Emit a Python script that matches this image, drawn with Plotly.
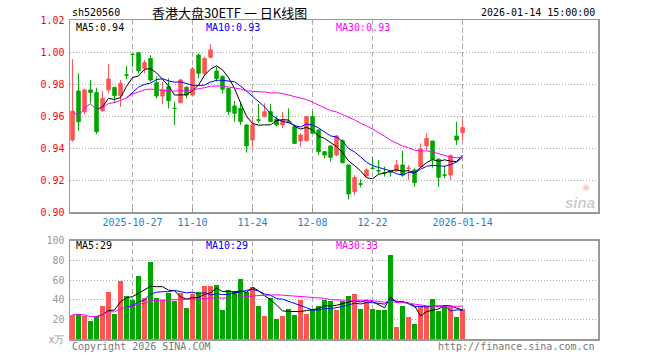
import plotly.graph_objects as go
import pandas as pd

dates = [
    "2025-10-13", "2025-10-14", "2025-10-15", "2025-10-16", "2025-10-17",
    "2025-10-20", "2025-10-21", "2025-10-22", "2025-10-23", "2025-10-24",
    "2025-10-27", "2025-10-28", "2025-10-29", "2025-10-30", "2025-10-31",
    "2025-11-03", "2025-11-04", "2025-11-05", "2025-11-06", "2025-11-07",
    "2025-11-10", "2025-11-11", "2025-11-12", "2025-11-13", "2025-11-14",
    "2025-11-17", "2025-11-18", "2025-11-19", "2025-11-20", "2025-11-21",
    "2025-11-24", "2025-11-25", "2025-11-26", "2025-11-27", "2025-11-28",
    "2025-12-01", "2025-12-02", "2025-12-03", "2025-12-04", "2025-12-05",
    "2025-12-08", "2025-12-09", "2025-12-10", "2025-12-11", "2025-12-12",
    "2025-12-15", "2025-12-16", "2025-12-17", "2025-12-18", "2025-12-19",
    "2025-12-22", "2025-12-23", "2025-12-24", "2025-12-25", "2025-12-26",
    "2025-12-29", "2025-12-30", "2025-12-31",
    "2026-01-05", "2026-01-06", "2026-01-07", "2026-01-08", "2026-01-09",
    "2026-01-12", "2026-01-13", "2026-01-14",
]

opens = [
    0.9450, 0.9756, 0.9627, 0.9763, 0.9746, 0.9633, 0.9763, 0.9779, 0.9727, 0.9857,
    0.9986, 0.9995, 0.9898, 0.9960, 0.9808, 0.9725, 0.9783, 0.9649, 0.9683, 0.9780,
    0.9731, 0.9981, 0.9867, 0.9967, 0.9881, 0.9846, 0.9773, 0.9663, 0.9648, 0.9544,
    0.9450, 0.9576, 0.9596, 0.9627, 0.9581, 0.9544, 0.9566, 0.9533, 0.9444, 0.9446,
    0.9596, 0.9513, 0.9377, 0.9413, 0.9356, 0.9446, 0.9294, 0.9127, 0.9176, 0.9225,
    0.9274, 0.9259, 0.9247, 0.9252, 0.9258, 0.9294, 0.9272, 0.9263, 0.9283, 0.9413,
    0.9444, 0.9331, 0.9232, 0.9231, 0.9475, 0.9496,
]
highs = [
    0.9956, 0.9867, 0.9770, 0.9825, 0.9777, 0.9756, 0.9925, 0.9780, 0.9825, 0.9913,
    0.9988, 0.9998, 0.9950, 0.9980, 0.9846, 0.9814, 0.9835, 0.9690, 0.9831, 0.9785,
    0.9908, 0.9992, 0.9970, 1.0050, 0.9908, 0.9856, 0.9775, 0.9694, 0.9690, 0.9546,
    0.9592, 0.9675, 0.9680, 0.9675, 0.9600, 0.9627, 0.9648, 0.9548, 0.9492, 0.9600,
    0.9633, 0.9513, 0.9377, 0.9413, 0.9481, 0.9454, 0.9294, 0.9231, 0.9204, 0.9273,
    0.9342, 0.9325, 0.9283, 0.9252, 0.9325, 0.9383, 0.9294, 0.9273, 0.9429, 0.9492,
    0.9444, 0.9331, 0.9290, 0.9360, 0.9565, 0.9575,
]
lows = [
    0.9440, 0.9508, 0.9610, 0.9680, 0.9488, 0.9627, 0.9742, 0.9680, 0.9658, 0.9830,
    0.9908, 0.9867, 0.9867, 0.9814, 0.9710, 0.9675, 0.9648, 0.9544, 0.9680, 0.9710,
    0.9730, 0.9835, 0.9850, 0.9960, 0.9815, 0.9742, 0.9606, 0.9565, 0.9544, 0.9371,
    0.9404, 0.9558, 0.9592, 0.9565, 0.9535, 0.9523, 0.9554, 0.9425, 0.9408, 0.9440,
    0.9490, 0.9356, 0.9335, 0.9315, 0.9350, 0.9304, 0.9079, 0.9106, 0.9154, 0.9220,
    0.9263, 0.9238, 0.9221, 0.9221, 0.9250, 0.9220, 0.9200, 0.9158, 0.9280, 0.9388,
    0.9277, 0.9158, 0.9210, 0.9200, 0.9419, 0.9446,
]
closes = [
    0.9630, 0.9564, 0.9763, 0.9746, 0.9502, 0.9710, 0.9831, 0.9727, 0.9804, 0.9855,
    0.9984, 0.9883, 0.9933, 0.9825, 0.9725, 0.9763, 0.9696, 0.9647, 0.9825, 0.9731,
    0.9894, 0.9867, 0.9960, 1.0013, 0.9835, 0.9767, 0.9627, 0.9617, 0.9565, 0.9413,
    0.9544, 0.9574, 0.9627, 0.9565, 0.9544, 0.9575, 0.9564, 0.9429, 0.9481, 0.9596,
    0.9492, 0.9377, 0.9356, 0.9342, 0.9475, 0.9308, 0.9113, 0.9215, 0.9174, 0.9263,
    0.9272, 0.9257, 0.9245, 0.9248, 0.9294, 0.9231, 0.9274, 0.9183, 0.9394, 0.9460,
    0.9329, 0.9217, 0.9230, 0.9352, 0.9450, 0.9527,
]
volumes = [
    24.6, 25.7, 22.9, 17.9, 22.9, 33.8, 47.3, 25.7, 59.4, 43.9,
    39.2, 64.5, 41.6, 78.7, 42.2, 39.2, 46.6, 38.9, 46.6, 32.0,
    45.6, 48.3, 54.4, 54.4, 55.4, 29.0, 50.0, 49.0, 61.2, 48.3,
    53.4, 33.8, 23.6, 41.6, 20.6, 23.6, 30.7, 24.6, 40.0, 25.7,
    30.4, 33.8, 39.5, 39.0, 29.0, 38.5, 44.0, 45.5, 30.7, 39.0,
    30.7, 29.0, 29.7, 85.5, 11.8, 33.8, 22.3, 15.5, 33.8, 33.8,
    40.9, 28.7, 33.1, 32.4, 22.3, 30.4,
]

tick_dates = ["2025-10-27", "2025-11-10", "2025-11-24", "2025-12-08", "2025-12-22", "2026-01-14"]
tick_texts = ["2025-10-27", "11-10", "11-24", "12-08", "12-22", "2026-01-14"]
price_ticks = [0.90, 0.92, 0.94, 0.96, 0.98, 1.00, 1.02]
vol_ticks = [0, 20, 40, 60, 80, 100]
vol_tick_texts = ["x万", "20", "40", "60", "80", "100"]

RED = "#FF5555"
GREEN = "#00A600"
MONO = "DejaVu Sans Mono"

c = pd.Series(closes)
v = pd.Series(volumes)
ma5 = c.rolling(5).mean()
ma10 = c.rolling(10).mean()
ma30 = c.rolling(30, min_periods=1).mean()
vma5 = v.rolling(5).mean()
vma10 = v.rolling(10).mean()
vma30 = v.rolling(30, min_periods=1).mean()

W, H = 660, 360
ML, MR, MT, MB = 70, 62, 20, 21
PW, PH = W - ML - MR, H - MT - MB


def px(x):
    return (x - ML) / PW


def py(y):
    return (H - MB - y) / PH


price_dom = [py(212), 1.0]
vol_dom = [0.0, py(240.7)]

bar_colors = [RED if cl > op else GREEN for op, cl in zip(opens, closes)]

fig = go.Figure()
fig.add_trace(go.Candlestick(
    x=dates, open=opens, high=highs, low=lows, close=closes,
    increasing=dict(line=dict(color=RED, width=1), fillcolor=RED),
    decreasing=dict(line=dict(color=GREEN, width=1), fillcolor=GREEN),
    whiskerwidth=0, xaxis="x", yaxis="y", showlegend=False, hoverinfo="skip",
))
for s, col in [(ma5, "black"), (ma10, "#0000FF"), (ma30, "#FF00FF")]:
    fig.add_trace(go.Scatter(x=dates, y=s, mode="lines", line=dict(color=col, width=1),
                             xaxis="x", yaxis="y", showlegend=False, hoverinfo="skip"))

fig.add_trace(go.Bar(x=dates, y=volumes, marker=dict(color=bar_colors, line=dict(width=0)),
                     width=0.83, xaxis="x2", yaxis="y2", showlegend=False, hoverinfo="skip"))
for s, col in [(vma5, "black"), (vma10, "#0000FF"), (vma30, "#FF00FF")]:
    fig.add_trace(go.Scatter(x=dates, y=s, mode="lines", line=dict(color=col, width=1),
                             xaxis="x2", yaxis="y2", showlegend=False, hoverinfo="skip"))

xrange = [-0.42, 87.57]
axis_common = dict(showline=True, mirror=True, linecolor="#999999", linewidth=1.5)

fig.update_layout(
    width=W, height=H, margin=dict(l=ML, r=MR, t=MT, b=MB),
    paper_bgcolor="white", plot_bgcolor="white",
    boxgap=0.18, bargap=0, hovermode=False,
    font=dict(family=MONO, size=10, color="black"),
    xaxis=dict(domain=[0, 1], anchor="y", type="category", categoryorder="array",
               categoryarray=dates, range=xrange, tickvals=tick_dates, ticktext=tick_texts,
               tickfont=dict(family=MONO, size=10, color="#1E7FCF"), ticks="inside", ticklen=3,
               tickcolor="#999999", showgrid=True, gridcolor="#AAAAAA", griddash="5px,3px",
               gridwidth=1, rangeslider=dict(visible=False), **axis_common),
    xaxis2=dict(domain=[0, 1], anchor="y2", matches="x", type="category", tickvals=tick_dates,
                showticklabels=False, ticks="", showgrid=True, gridcolor="#AAAAAA",
                griddash="5px,3px", gridwidth=1, **axis_common),
    yaxis=dict(domain=price_dom, anchor="x", range=[0.90, 1.02], tickvals=price_ticks,
               ticktext=[f"{t:.2f}" for t in price_ticks],
               tickfont=dict(family=MONO, size=10, color="#FF0000"), ticks="",
               showgrid=True, gridcolor="#AAAAAA", griddash="1px,2px", zeroline=False,
               ticklabelstandoff=2, **axis_common),
    yaxis2=dict(domain=vol_dom, anchor="x2", range=[0, 100], tickvals=vol_ticks,
                ticktext=vol_tick_texts, tickfont=dict(family=MONO, size=10, color="#999999"),
                ticks="", showgrid=True, gridcolor="#AAAAAA", griddash="1px,2px",
                zeroline=False, ticklabelstandoff=2, **axis_common),
)

ann = []


def add_text(text, x, y, color="black", xanchor="left", size=10, family=MONO, **kw):
    ann.append(dict(text=text, x=px(x), y=py(y), xref="paper", yref="paper",
                    xanchor=xanchor, yanchor="middle", showarrow=False,
                    font=dict(family=family, size=size, color=color), **kw))


add_text("sh520560", 70, 12)
add_text("香港大盘30ETF 一 日K线图", 229, 12, xanchor="center", size=13,
         family="Noto Sans CJK SC")
add_text("2026-01-14 15:00:00", 597, 12, xanchor="right")

add_text(f"MA5:{ma5.iloc[-1]:.2f}", 74, 27)
add_text(f"MA10:{ma10.iloc[-1]:.2f}", 204, 27, color="#0000FF")
add_text(f"MA30:{ma30.iloc[-1]:.2f}", 334, 27, color="#FF00FF")

add_text(f"MA5:{vma5.iloc[-1]:.0f}", 74, 246)
add_text(f"MA10:{vma10.iloc[-1]:.0f}", 204, 246, color="#0000FF")
add_text(f"MA30:{vma30.iloc[-1]:.0f}", 334, 246, color="#FF00FF")

add_text("Copyright 2026 SINA.COM", 70, 347, color="#777777")
add_text("http://finance.sina.com.cn", 597, 347, color="#777777", xanchor="right")

add_text("<b><i>sina</i></b>", 580, 202, color="rgba(140,140,140,0.45)", xanchor="center",
         size=15, family="Liberation Sans")
add_text("◉", 586, 187, color="rgba(230,90,90,0.35)", xanchor="center", size=9,
         family="DejaVu Sans")

fig.update_layout(annotations=ann)
fig.write_html("out.html", config={"displayModeBar": False, "staticPlot": True},
               post_script="document.body.style.margin='0px';")
